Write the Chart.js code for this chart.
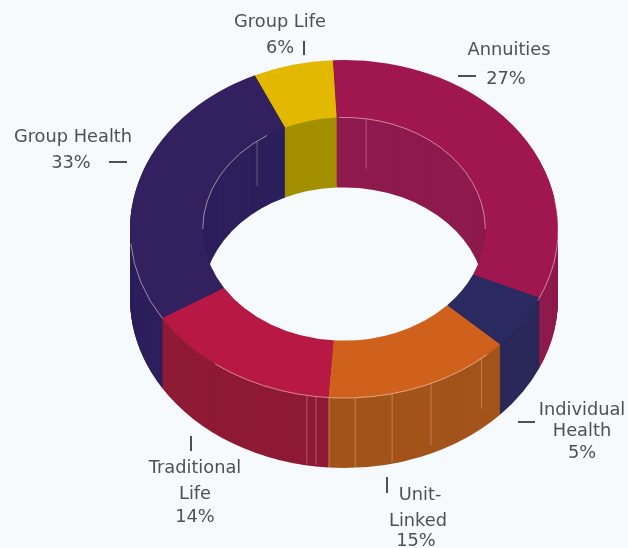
<!DOCTYPE html>
<html>
<head>
<meta charset="utf-8">
<title>Premium mix</title>
<script src="https://cdn.jsdelivr.net/npm/chart.js@4/dist/chart.umd.min.js"></script>
<style>
  html, body { margin: 0; padding: 0; background: #f6fafd; }
  canvas { display: block; }
</style>
</head>
<body>
<canvas id="mix" width="628" height="548"></canvas>
<script>
// ── Data ──────────────────────────────────────────────────────────────────────
const categories   = ['Annuities', 'Individual Health', 'Unit-Linked', 'Traditional Life', 'Group Health', 'Group Life'];
// percentages as printed next to each slice
const printedShare = [27, 5, 15, 14, 33, 6];
// slice sizes (the source draws Annuities and Group Health larger/smaller than printed)
const drawnShare   = [32.5, 5.3, 14.2, 15, 27, 6];
const topColours   = ['#a0164f', '#2b2a60', '#d0611c', '#b81844', '#33205f', '#e2b800'];
const wallColours  = ['#8e1a4e', '#2a2858', '#a3541a', '#8f1a35', '#2c1f5c', '#a39000'];

// ── Look of the fake 3D ───────────────────────────────────────────────────────
const SQUASH = 0.79;
const DEPTH = 70;
const TOP_CY = 229;
const CUTOUT = 0.66;
const PALE = 'rgba(255,225,215,0.55)';
const GLINT = 'rgba(255,225,205,0.32)';

// [from, to, radius as share of the outer radius], degrees clockwise from 12 o'clock
const paleArcs = [
  [-2, 90, CUTOUT], [270, 327, CUTOUT],
  [138, 217, 1], [238, 265, 1], [80, 115, 1]
];
// [angle, radius share, length]
const glints = [
  [9, CUTOUT, 50], [322, CUTOUT, 45],
  [190, 1, 68], [187.5, 1, 68], [184, 1, 70], [177, 1, 70], [167, 1, 68], [156, 1, 62], [140, 1, 50]
];

// [text, x, y]
const labelText = [
  ['Group Life', 280, 22], [printedShare[5] + '%', 280, 48],
  ['Annuities', 509, 50], [printedShare[0] + '%', 506, 79],
  ['Group Health', 73, 137], [printedShare[4] + '%', 71, 163],
  ['Individual', 582, 410], ['Health', 582, 431], [printedShare[1] + '%', 582, 453],
  ['Traditional', 195, 468], ['Life', 195, 494], [printedShare[3] + '%', 195, 517],
  ['Unit-', 420, 495], ['Linked', 418, 521], [printedShare[2] + '%', 416, 541]
];
// [x1, y1, x2, y2]
const labelTicks = [
  [304, 41, 304, 55], [458, 76, 476, 76], [109, 162, 127, 162],
  [518, 422, 535, 422], [191, 436, 191, 451], [387, 477, 387, 493]
];

const rad = d => (d - 90) * Math.PI / 180;

function setSquash(ctx, arc, drop) {
  ctx.translate(arc.x, TOP_CY + drop);
  ctx.scale(1, SQUASH);
  ctx.translate(-arc.x, -arc.y);
}

// ── Plugin: walls under the doughnut, highlights and labels on top ────────────
const ring3d = {
  id: 'ring3d',
  beforeDatasetDraw: () => false,
  afterDatasetsDraw(chart) {
    const ctx = chart.ctx;
    const arcs = chart.getDatasetMeta(0).data;
    const first = arcs[0];

    for (let d = DEPTH; d > 0; d--) {
      arcs.forEach((a, i) => {
        ctx.save();
        setSquash(ctx, a, d);
        ctx.beginPath();
        ctx.arc(a.x, a.y, a.outerRadius, a.startAngle, a.endAngle);
        ctx.arc(a.x, a.y, a.innerRadius, a.endAngle, a.startAngle, true);
        ctx.closePath();
        ctx.fillStyle = wallColours[i];
        ctx.fill();
        ctx.restore();
      });
    }

    ctx.save();
    setSquash(ctx, first, 0);
    arcs.forEach(a => a.draw(ctx));
    ctx.restore();

    paleArcs.forEach(([from, to, share]) => {
      ctx.save();
      setSquash(ctx, first, 0);
      ctx.beginPath();
      ctx.arc(first.x, first.y, first.outerRadius * share, rad(from), rad(to));
      ctx.restore();
      ctx.strokeStyle = PALE;
      ctx.lineWidth = 1;
      ctx.stroke();
    });

    glints.forEach(([ang, share, len]) => {
      const r = first.outerRadius * share;
      const x = first.x + r * Math.cos(rad(ang));
      const y = TOP_CY + r * SQUASH * Math.sin(rad(ang));
      ctx.beginPath();
      ctx.moveTo(x, y);
      ctx.lineTo(x, y + len);
      ctx.strokeStyle = GLINT;
      ctx.lineWidth = 1;
      ctx.stroke();
    });

    ctx.fillStyle = '#4b5156';
    ctx.font = '17.8px "DejaVu Sans"';
    ctx.textAlign = 'center';
    ctx.textBaseline = 'middle';
    labelText.forEach(([t, x, y]) => ctx.fillText(t, x, y));

    ctx.strokeStyle = '#4b5156';
    ctx.lineWidth = 2;
    labelTicks.forEach(([x1, y1, x2, y2]) => {
      ctx.beginPath();
      ctx.moveTo(x1, y1);
      ctx.lineTo(x2, y2);
      ctx.stroke();
    });
  }
};

new Chart(document.getElementById('mix'), {
  type: 'doughnut',
  data: {
    labels: categories,
    datasets: [{ data: drawnShare, backgroundColor: topColours, borderWidth: 0 }]
  },
  options: {
    responsive: false,
    animation: false,
    rotation: -3,
    cutout: (CUTOUT * 100) + '%',
    layout: { padding: { left: 130, right: 70, top: 60, bottom: 60 } },
    plugins: { legend: { display: false }, tooltip: { enabled: false } }
  },
  plugins: [ring3d]
});
</script>
</body>
</html>
